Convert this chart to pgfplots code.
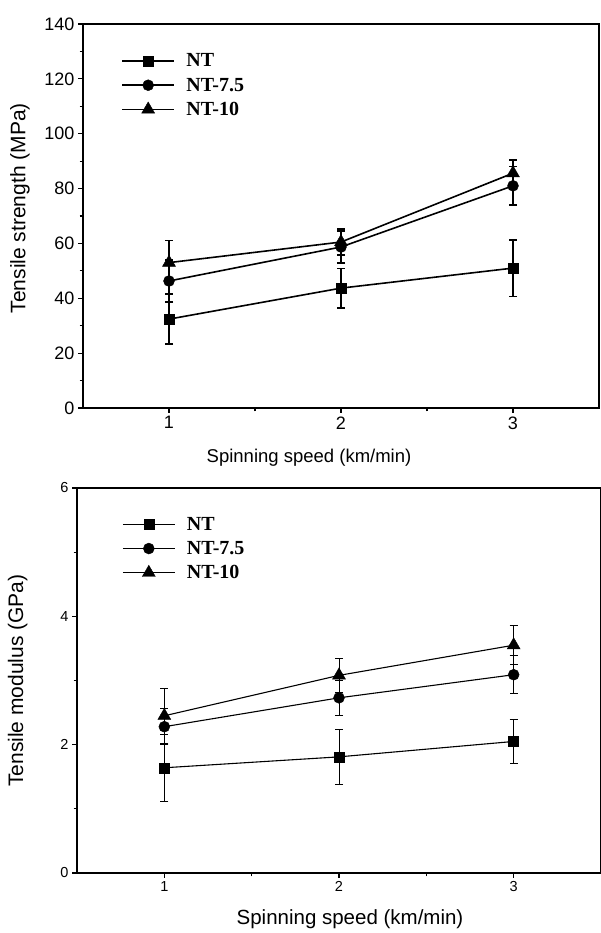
\documentclass[border=0pt]{standalone}
\usepackage{fontspec}
\setmainfont{Liberation Sans}
\newfontfamily\legfont{Liberation Serif}
\usepackage{pgfplots}
\pgfplotsset{compat=1.18}
\usepackage{pgfplotstable}

% tensile strength (MPa): speed, mean, standard deviation
\pgfplotstableread{
x y e
1 32.4 9.1
2 43.7 7.2
3 51.0 10.3
}\strNT
\pgfplotstableread{
x y e
1 46.3 7.7
2 58.7 5.8
3 81.0 7.0
}\strNTa
\pgfplotstableread{
x y e
1 53.0 8.0
2 60.5 4.8
3 85.6 4.8
}\strNTb

% tensile modulus (GPa)
\pgfplotstableread{
x y e
1 1.64 0.52
2 1.81 0.43
3 2.05 0.34
}\modNT
\pgfplotstableread{
x y e
1 2.28 0.28
2 2.73 0.27
3 3.09 0.30
}\modNTa
\pgfplotstableread{
x y e
1 2.45 0.43
2 3.08 0.26
3 3.55 0.30
}\modNTb

\pgfplotsset{
  panel/.style={
    scale only axis,
    xmin=0.5, xmax=3.5,
    xtick={1,2,3},
    minor x tick num=1,
    minor y tick num=1,
    tick align=outside,
    xtick pos=left, ytick pos=left,
    axis line style={line width=1.5pt},
    major tick length=5pt, minor tick length=3.5pt,
    every tick/.style={black, line width=1.1pt},
    /pgf/number format/assume math mode=true,
    legend cell align=left,
    legend image code/.code={%
      \draw[mark repeat=2, mark phase=2] plot coordinates {(0pt,0pt) (26pt,0pt) (52pt,0pt)};},
  },
  ser/.style={black, line width=#1, mark options={solid, line width=0.4pt}},
  eb/.style={error bars/.cd, y dir=both, y explicit,
    error bar style={line width=#1},
    error mark=-, error mark options={rotate=90, mark size=4pt, line width=#1}},
  legfmt/.style={draw=none, fill=none,
    font=\legfont\bfseries\fontsize{20}{22}\selectfont, inner sep=0pt, row sep=5.5pt,
    /tikz/every odd column/.style={column sep=9.5pt}},
}

\begin{document}
\begin{tikzpicture}
\useasboundingbox (0,0) rectangle (600pt,933pt);

\begin{axis}[panel,
  at={(83pt,525pt)}, anchor=south west,
  width=516pt, height=384pt,
  ymin=0, ymax=140, ytick={0,20,...,140},
  ticklabel style={font=\fontsize{18}{20}\selectfont},
  xlabel={Spinning speed (km/min)},
  xlabel style={font=\fontsize{18.5}{21}\selectfont, at={(axis description cs:0.438,0)}, anchor=north, inner sep=0pt, yshift=-41pt},
  ylabel={Tensile strength (MPa)},
  ylabel style={font=\fontsize{21}{24}\selectfont, at={(axis description cs:-0.122,0.52)}, anchor=center, inner sep=0pt},
  legend style={legfmt, at={(axis description cs:0.074,0.928)}, anchor=north west},
]
\addplot[ser=1.6pt, mark=square*, mark size=5pt, eb=1.5pt] table[x=x, y=y, y error=e] {\strNT};
\addlegendentry{NT}
\addplot[ser=1.6pt, mark=*, mark size=5.5pt, eb=1.5pt] table[x=x, y=y, y error=e] {\strNTa};
\addlegendentry{NT-7.5}
\addplot[ser=1.6pt, mark=triangle*, mark size=7.5pt, eb=1.5pt] table[x=x, y=y, y error=e] {\strNTb};
\addlegendentry{NT-10}
\end{axis}

\begin{axis}[panel,
  at={(77pt,60pt)}, anchor=south west,
  width=524pt, height=385pt,
  ymin=0, ymax=6, ytick={0,2,4,6},
  ticklabel style={font=\fontsize{14.5}{17}\selectfont},
  xlabel={Spinning speed (km/min)},
  xlabel style={font=\fontsize{20.5}{23}\selectfont, at={(axis description cs:0.521,0)}, anchor=north, inner sep=0pt, yshift=-36pt},
  ylabel={Tensile modulus (GPa)},
  ylabel style={font=\fontsize{21}{24}\selectfont, at={(axis description cs:-0.113,0.5)}, anchor=center, inner sep=0pt},
  legend style={legfmt, at={(axis description cs:0.086,0.93)}, anchor=north west},
]
\addplot[ser=1.1pt, mark=square*, mark size=5pt, eb=1pt] table[x=x, y=y, y error=e] {\modNT};
\addlegendentry{NT}
\addplot[ser=1.1pt, mark=*, mark size=5.5pt, eb=1pt] table[x=x, y=y, y error=e] {\modNTa};
\addlegendentry{NT-7.5}
\addplot[ser=1.1pt, mark=triangle*, mark size=7.5pt, eb=1pt] table[x=x, y=y, y error=e] {\modNTb};
\addlegendentry{NT-10}
\end{axis}
\end{tikzpicture}
\end{document}
